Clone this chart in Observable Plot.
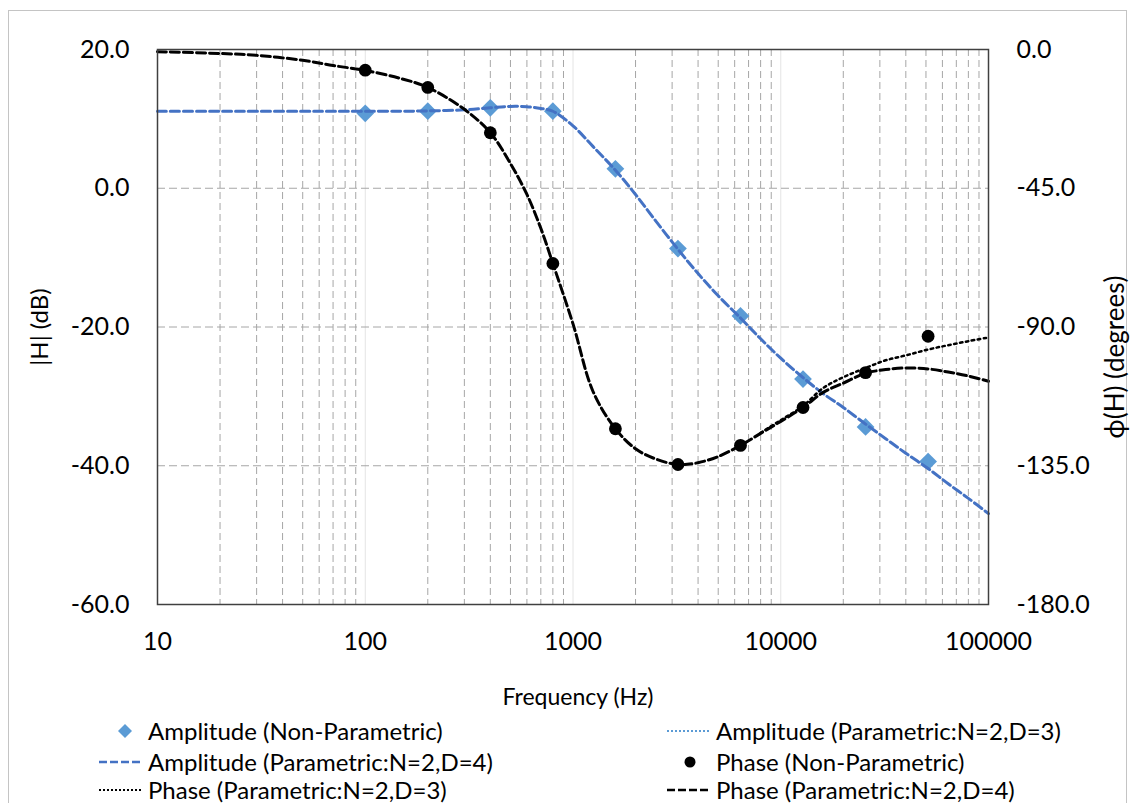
<!DOCTYPE html>
<html><head><meta charset="utf-8">
<script src="https://cdn.jsdelivr.net/npm/d3@7"></script>
<script src="https://cdn.jsdelivr.net/npm/@observablehq/plot@0.6"></script>
<style>
body{margin:0;background:#fff;font-family:Lato,"Open Sans",sans-serif;}
#wrap{position:relative;width:1135px;height:803px;overflow:hidden;background:#fff;}
#border{position:absolute;left:8px;top:10px;width:1119px;height:830px;border:1px solid #c4c4c4;box-sizing:border-box;}
#chart{position:absolute;left:0;top:0;}
#legend{position:absolute;left:0;top:0;width:1135px;height:803px;pointer-events:none;}
.item{position:absolute;display:flex;align-items:center;font-size:24px;line-height:26px;color:#000;white-space:nowrap;height:28px;}
.item svg{flex:none;}
</style></head>
<body><div id="wrap"><div id="border"></div><div id="chart"></div><div id="legend"></div></div>
<script>
// ---- data ----
const freqNP = [100, 200, 400, 800, 1600, 3200, 6400, 12800, 25600, 51200];
const ampNP = [10.8, 11.1, 11.6, 11.1, 2.8, -8.7, -18.4, -27.5, -34.4, -39.4];
const phaseNP = [-6.7, -12.3, -27.0, -69.4, -123.0, -134.6, -128.4, -116.1, -104.8, -93.0];

const freqCurve = [10, 20, 30, 50, 70, 100, 150, 200, 300, 400, 500, 600, 700, 800, 1000, 1250, 1600, 2000, 2500, 3200, 4000, 5000, 6400, 8000, 10000, 12800, 16000, 20000, 25600, 32000, 40000, 51200, 64000, 80000, 100000];
const ampD4 = [11.1, 11.1, 11.1, 11.1, 11.1, 11.1, 11.1, 11.15, 11.3, 11.6, 11.8, 11.75, 11.5, 11.1, 9.0, 6.0, 2.6, -0.9, -4.7, -8.8, -12.3, -15.5, -18.7, -21.7, -24.5, -27.3, -29.6, -31.6, -34.0, -36.1, -38.2, -40.4, -42.6, -44.7, -46.9];
const phaseD3 = [-0.7, -1.3, -1.9, -3.5, -5.2, -6.8, -9.5, -12.3, -19.4, -27.0, -37.0, -47.0, -58.0, -69.4, -89.0, -111.0, -123.0, -129.5, -132.8, -134.6, -134.0, -132.0, -128.4, -124.3, -120.2, -115.6, -109.8, -106.3, -103.3, -100.8, -99.2, -97.3, -95.9, -94.6, -93.4];
const phaseD4 = [-0.7, -1.3, -1.9, -3.5, -5.2, -6.8, -9.5, -12.3, -19.4, -27.0, -37.0, -47.0, -58.0, -69.4, -89.0, -111.0, -123.0, -129.5, -132.8, -134.6, -134.0, -132.0, -128.4, -124.5, -120.6, -116.1, -111.2, -108.2, -105.0, -103.8, -103.3, -103.6, -104.6, -105.9, -107.6];

const xTicks = [10, 100, 1000, 10000, 100000];
const yTicksLeft = [-60, -40, -20, 0, 20];
const ySecondary = [-180, -135, -90, -45, 0];

// phase (deg) -> left axis units (dB): 0 deg -> 20, -180 deg -> -60
const toLeft = p => 20 + p * 80 / 180;
const fromLeft = v => (v - 20) * 180 / 80;

const npRows = freqNP.map((f, i) => ({f, amp: ampNP[i], ph: toLeft(phaseNP[i])}));
const curveRows = freqCurve.map((f, i) => ({f, a4: ampD4[i], p3: toLeft(phaseD3[i]), p4: toLeft(phaseD4[i])}));
// D=3 phase coincides with D=4 below ~8 kHz; only its diverging part shows through
const p3Visible = curveRows.filter(d => d.f >= 8000);

const majorGrid = [100, 1000, 10000];
const minorGrid = [10, 100, 1000, 10000].flatMap(d => [2, 3, 4, 5, 6, 7, 8, 9].map(k => k * d));

const FONT = "Lato, 'Open Sans', sans-serif";
const chart = Plot.plot({
  width: 1135,
  height: 716,
  marginLeft: 157,
  marginRight: 147,
  marginTop: 49,
  marginBottom: 112,
  style: {fontFamily: FONT, fontSize: "25px", color: "#000", background: "transparent", overflow: "visible"},
  x: {type: "log", domain: [10, 100000]},
  y: {domain: [-60, 20]},
  marks: [
    Plot.ruleX(majorGrid, {stroke: "#e4e4e4", strokeWidth: 1}),
    Plot.ruleX(minorGrid, {stroke: "#a6a6a6", strokeWidth: 1, strokeDasharray: "7,4"}),
    Plot.ruleY([-40, -20, 0], {stroke: "#a6a6a6", strokeWidth: 1, strokeDasharray: "8,4"}),
    Plot.axisX({ticks: xTicks, tickFormat: d => String(d), tickSize: 0, tickPadding: 28, label: null, fontSize: 25}),
    Plot.axisY({anchor: "left", ticks: yTicksLeft, tickFormat: d => d.toFixed(1), tickSize: 0, tickPadding: 28, label: null, fontSize: 25}),
    Plot.axisY({anchor: "right", ticks: ySecondary.map(toLeft), tickFormat: d => fromLeft(d).toFixed(1), tickSize: 0, tickPadding: 28, label: null, fontSize: 25}),
    Plot.text(["|H| (dB)"], {frameAnchor: "left", textAnchor: "middle", lineAnchor: "middle", rotate: -90, dx: -117, fontSize: 24, fill: "#000"}),
    Plot.text(["\u03D5(H) (degrees)"], {frameAnchor: "right", textAnchor: "middle", lineAnchor: "middle", rotate: -90, dx: 127, dy: 30, fontSize: 26, fill: "#000"}),
    Plot.text(["Frequency (Hz)"], {frameAnchor: "bottom", textAnchor: "middle", lineAnchor: "middle", dy: 93, dx: 5, fontSize: 23, fill: "#000"}),
    Plot.dot(npRows, {x: "f", y: "amp", symbol: "diamond2", r: 8, fill: "#5B9BD5", stroke: null}),
    Plot.line(curveRows, {x: "f", y: "a4", stroke: "#4472C4", strokeWidth: 3, strokeDasharray: "9,4", curve: "catmull-rom"}),
    Plot.dot(npRows, {x: "f", y: "ph", r: 6.4, fill: "#000", stroke: null}),
    Plot.line(p3Visible, {x: "f", y: "p3", stroke: "#000", strokeWidth: 2.5, strokeDasharray: "2.5,3.5", curve: "catmull-rom"}),
    Plot.line(curveRows, {x: "f", y: "p4", stroke: "#000", strokeWidth: 3, strokeDasharray: "9,4", curve: "catmull-rom"}),
    Plot.frame({stroke: "#404040", strokeWidth: 1.5})
  ]
});
document.getElementById("chart").appendChild(chart);

// ---- legend (HTML below the plot) ----
const legendLabels = [
  "Amplitude (Non-Parametric)",
  "Amplitude (Parametric:N=2,D=3)",
  "Amplitude (Parametric:N=2,D=4)",
  "Phase (Non-Parametric)",
  "Phase (Parametric:N=2,D=3)",
  "Phase (Parametric:N=2,D=4)"
];
const legendKinds = ["diamond", "dotBlue", "dashBlue", "circle", "dotBlack", "dashBlack"];
const legendPos = [[99, 717], [667, 717], [99, 748], [667, 748], [99, 776], [667, 776]];

function swatch(kind) {
  const ns = "http://www.w3.org/2000/svg";
  const s = document.createElementNS(ns, "svg");
  s.setAttribute("width", 46); s.setAttribute("height", 28);
  let el;
  if (kind === "diamond") {
    el = document.createElementNS(ns, "path");
    el.setAttribute("d", "M26,7 L33,14 L26,21 L19,14 Z");
    el.setAttribute("fill", "#5B9BD5");
  } else if (kind === "circle") {
    el = document.createElementNS(ns, "circle");
    el.setAttribute("cx", 23); el.setAttribute("cy", 14); el.setAttribute("r", 5.5);
    el.setAttribute("fill", "#000");
  } else {
    el = document.createElementNS(ns, "line");
    el.setAttribute("x1", 0); el.setAttribute("x2", 44); el.setAttribute("y1", 14); el.setAttribute("y2", 14);
    const blue = kind.endsWith("Blue");
    const dotted = kind.startsWith("dot");
    el.setAttribute("stroke", kind === "dotBlue" ? "#5B9BD5" : blue ? "#4472C4" : "#000");
    el.setAttribute("stroke-width", dotted ? 2 : 2.5);
    el.setAttribute("stroke-dasharray", dotted ? "2,2" : "8,3");
  }
  s.appendChild(el);
  return s;
}
const leg = document.getElementById("legend");
legendLabels.forEach((lab, i) => {
  const d = document.createElement("div");
  d.className = "item";
  d.style.left = legendPos[i][0] + "px";
  d.style.top = legendPos[i][1] + "px";
  d.appendChild(swatch(legendKinds[i]));
  const t = document.createElement("span");
  t.textContent = lab;
  t.style.marginLeft = "3px";
  d.appendChild(t);
  leg.appendChild(d);
});
</script></body></html>
